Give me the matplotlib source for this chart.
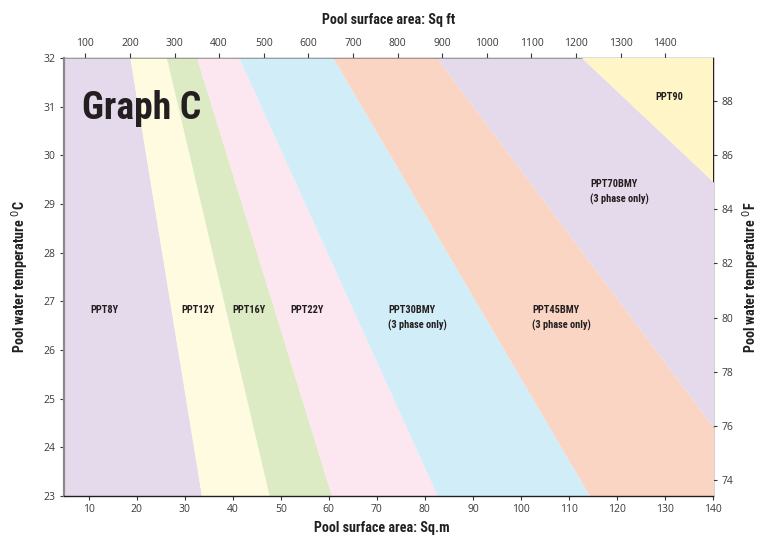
import matplotlib
matplotlib.use("Agg")
import matplotlib.pyplot as plt
from matplotlib import font_manager
import numpy as np

# ---- data ----
temps_c = [23, 32]                      # y extent of chart (deg C)
xlim_m = (4.86, 140)                    # sq.m range
# boundary lines between zones: x (sq.m) at 32C and at 23C
boundary_top = [18.6, 26.2, 32.5, 41.3, 60.9, 82.5, 112.7]
boundary_bottom = [33.5, 47.6, 60.6, 82.6, 114.3, 150.8, 209.4]
zone_names = ["PPT8Y", "PPT12Y", "PPT16Y", "PPT22Y",
              "PPT30BMY\n(3 phase only)", "PPT45BMY\n(3 phase only)",
              "PPT70BMY\n(3 phase only)", "PPT90"]
zone_colors = ["#E5D9EC", "#FEFBE0", "#DDEBC5", "#FCE7F1",
               "#D1EDF8", "#FAD5C4", "#E5D9EC", "#FFF5C6"]
label_x = [10.3, 29.2, 40.0, 52.1, 72.3, 102.3, 114.4, 127.9]
label_y = [26.92, 26.92, 26.92, 26.92, 26.92, 26.92, 29.52, 31.3]
sqm_ticks = [10, 20, 30, 40, 50, 60, 70, 80, 90, 100, 110, 120, 130, 140]
sqft_ticks = [100, 200, 300, 400, 500, 600, 700, 800, 900, 1000, 1100, 1200, 1300, 1400]
c_ticks = [23, 24, 25, 26, 27, 28, 29, 30, 31, 32]
f_ticks = [74, 76, 78, 80, 82, 84, 86, 88]

available = {f.name for f in font_manager.fontManager.ttflist}
condensed = None
for cand in ["Roboto Condensed", "Liberation Sans Narrow", "Open Sans Condensed",
             "DejaVu Sans Condensed", "Noto Sans Condensed"]:
    if cand in available:
        condensed = cand
        break
if condensed:
    HEAD = [condensed, "DejaVu Sans"]
    sz_label, sz_zone, sz_title = 10.2, 7.5, 27
else:
    HEAD = ["Roboto", "DejaVu Sans"]
    sz_label, sz_zone, sz_title = 9, 6.6, 23
COND = dict(family=HEAD, weight="bold")
TXT = "#231F20"
TICKC = "#3a3a3a"
TICKFONT = ["Open Sans", "DejaVu Sans"]

fig = plt.figure(figsize=(7.63, 5.41), dpi=100)
ax = fig.add_axes([64/763, 1-496/541, (713-64)/763, (496-58)/541])

far_left = -50
far_right = 400
edges_top = [far_left] + boundary_top + [far_right]
edges_bot = [far_left] + boundary_bottom + [far_right]
for i, col in enumerate(zone_colors):
    ax.fill_betweenx(temps_c, [edges_bot[i], edges_top[i]],
                     [edges_bot[i+1], edges_top[i+1]],
                     color=col, linewidth=0, zorder=1)

for name, x, y in zip(zone_names, label_x, label_y):
    ax.text(x, y, name, fontsize=sz_zone, color=TXT, ha="left", va="top",
            linespacing=1.55, zorder=3, **COND)

ax.text(8.7, 30.97, "Graph C", fontsize=sz_title, color=TXT, ha="left",
        va="center", zorder=3, **COND)

ax.set_xlim(*xlim_m)
ax.set_ylim(*temps_c)
ax.set_xticks(sqm_ticks)
ax.set_yticks(c_ticks)
ax.tick_params(labelsize=7.5, labelcolor=TICKC, length=3, width=0.8,
               color=TICKC, pad=3, labelfontfamily=TICKFONT)
ax.set_xlabel("Pool surface area: Sq.m", fontsize=sz_label, color=TXT, **COND)
ax.xaxis.set_label_coords(0.49, -0.058)
ax.set_ylabel("Pool water temperature $^{0}$C", fontsize=sz_label, color=TXT,
              labelpad=9, **COND)

for s in ["top", "right"]:
    ax.spines[s].set_visible(False)
ax.spines["left"].set_color("#8a8a8a")
ax.spines["left"].set_linewidth(1.6)
ax.spines["bottom"].set_color("#231F20")
ax.spines["bottom"].set_linewidth(1.0)

top = ax.secondary_xaxis("top", functions=(lambda m: m * 10.7639,
                                           lambda f: f / 10.7639))
top.set_xticks(sqft_ticks)
top.tick_params(labelsize=7.5, labelcolor=TICKC, length=3.5, width=0.8,
                color=TICKC, pad=3, labelfontfamily=TICKFONT)
top.set_xlabel("Pool surface area: Sq ft", fontsize=sz_label, color=TXT,
               labelpad=10, **COND)
top.spines["top"].set_color("#555555")
top.spines["top"].set_linewidth(1.0)

right = ax.secondary_yaxis("right", functions=(lambda c: c * 9 / 5 + 32,
                                               lambda f: (f - 32) * 5 / 9))
right.set_yticks(f_ticks)
right.tick_params(labelsize=7.5, labelcolor=TICKC, length=3, width=0.8,
                  color=TICKC, pad=3, labelfontfamily=TICKFONT)
right.set_ylabel("Pool water temperature $^{0}$F", fontsize=sz_label, color=TXT,
                 labelpad=5, **COND)
right.spines["right"].set_color("#231F20")
right.spines["right"].set_linewidth(1.0)

fig.savefig("out.png", dpi=100)
